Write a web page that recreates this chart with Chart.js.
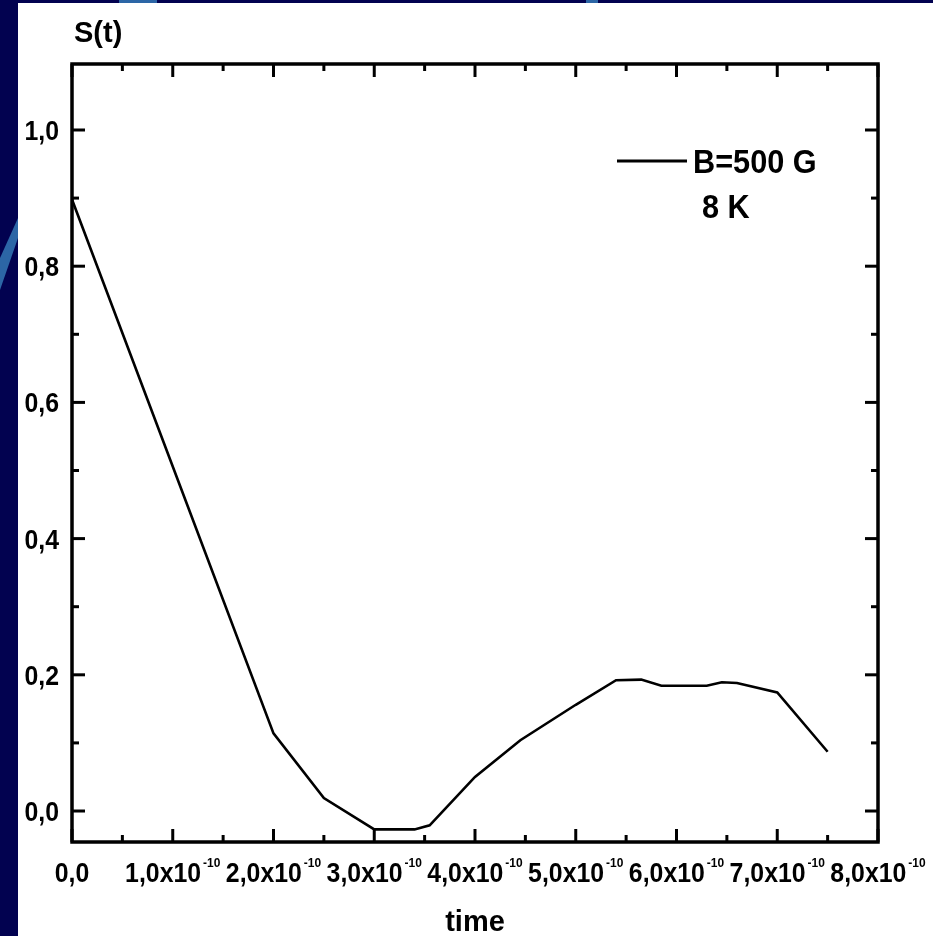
<!DOCTYPE html>
<html><head><meta charset="utf-8">
<script src="https://cdn.jsdelivr.net/npm/chart.js@4/dist/chart.umd.min.js"></script>
<style>
html,body{margin:0;padding:0;background:#020250;overflow:hidden;}
canvas{display:block;}
</style>
</head><body>
<canvas id="c" width="933" height="936"></canvas>
<script>
// ---- data ----
const timeValues   = [0, 1.0e-10, 2.0e-10, 2.5e-10, 3.0e-10, 3.4e-10, 3.55e-10, 4.0e-10, 4.45e-10, 5.0e-10, 5.4e-10, 5.65e-10, 5.85e-10, 6.3e-10, 6.45e-10, 6.6e-10, 7.0e-10, 7.5e-10];
const signalValues = [0.898, 0.506, 0.114, 0.019, -0.027, -0.027, -0.021, 0.050, 0.104, 0.156, 0.192, 0.193, 0.184, 0.184, 0.189, 0.188, 0.174, 0.087];
const seriesLabel = 'B=500 G';
const seriesNote  = '8 K';

const xTickValues = [0, 1e-10, 2e-10, 3e-10, 4e-10, 5e-10, 6e-10, 7e-10, 8e-10];
const xTickMain   = ['0,0', '1,0x10', '2,0x10', '3,0x10', '4,0x10', '5,0x10', '6,0x10', '7,0x10', '8,0x10'];
const xTickExp    = ['', '-10', '-10', '-10', '-10', '-10', '-10', '-10', '-10'];
const xMinorValues = [0.5e-10, 1.5e-10, 2.5e-10, 3.5e-10, 4.5e-10, 5.5e-10, 6.5e-10, 7.5e-10];
const yTickValues = [0, 0.2, 0.4, 0.6, 0.8, 1.0];
const yTickLabels = ['0,0', '0,2', '0,4', '0,6', '0,8', '1,0'];
const yMinorValues = [0.1, 0.3, 0.5, 0.7, 0.9];
const xTitle = 'time';
const yTitle = 'S(t)';

const FONT = '"Liberation Sans", Arial, sans-serif';
function txt(ctx, s, x, y, size, align, sx) {
  ctx.save();
  ctx.font = 'bold ' + size + 'px ' + FONT;
  ctx.fillStyle = '#000';
  ctx.textBaseline = 'alphabetic';
  ctx.translate(x, y);
  ctx.scale(sx, 1);
  ctx.textAlign = align;
  ctx.fillText(s, 0, 0);
  ctx.restore();
}
function txtWidth(ctx, s, size, sx) {
  ctx.save();
  ctx.font = 'bold ' + size + 'px ' + FONT;
  const w = ctx.measureText(s).width * sx;
  ctx.restore();
  return w;
}

const bgPlugin = {
  id: 'bg',
  beforeDraw(chart) {
    const ctx = chart.ctx, W = chart.width, H = chart.height;
    ctx.save();
    ctx.fillStyle = '#020250';
    ctx.fillRect(0, 0, W, H);
    ctx.fillStyle = '#2c66a6';
    ctx.beginPath();
    ctx.moveTo(0, 258); ctx.lineTo(18, 218); ctx.lineTo(18, 238); ctx.lineTo(0, 290); ctx.closePath();
    ctx.fill();
    ctx.fillRect(119, 0, 38, 3);
    ctx.fillRect(586, 0, 12, 3);
    ctx.fillStyle = '#ffffff';
    ctx.fillRect(18, 3, W - 18, H - 3);
    ctx.restore();
  }
};

const framePlugin = {
  id: 'frame',
  afterDraw(chart) {
    const ctx = chart.ctx, a = chart.chartArea;
    const xs = chart.scales.x, ys = chart.scales.y;
    ctx.save();
    ctx.strokeStyle = '#000';
    // frame
    ctx.lineWidth = 3.5;
    ctx.strokeRect(a.left, a.top, a.right - a.left, a.bottom - a.top);
    // ticks (inward, all four sides)
    ctx.lineWidth = 3;
    ctx.lineCap = 'butt';
    const MAJ = 13, MIN = 7;
    function vt(px, len) {
      ctx.beginPath(); ctx.moveTo(px, a.bottom); ctx.lineTo(px, a.bottom - len); ctx.stroke();
      ctx.beginPath(); ctx.moveTo(px, a.top); ctx.lineTo(px, a.top + len); ctx.stroke();
    }
    function ht(py, len) {
      ctx.beginPath(); ctx.moveTo(a.left, py); ctx.lineTo(a.left + len, py); ctx.stroke();
      ctx.beginPath(); ctx.moveTo(a.right, py); ctx.lineTo(a.right - len, py); ctx.stroke();
    }
    xTickValues.forEach(v => vt(xs.getPixelForValue(v), MAJ));
    xMinorValues.forEach(v => vt(xs.getPixelForValue(v), MIN));
    yTickValues.forEach(v => ht(ys.getPixelForValue(v), MAJ));
    yMinorValues.forEach(v => ht(ys.getPixelForValue(v), MIN));
    ctx.restore();

    // y tick labels
    yTickValues.forEach((v, i) => {
      const py = ys.getPixelForValue(v);
      txt(ctx, yTickLabels[i], 59, py + 10, 27, 'right', 0.92);
    });
    // x tick labels with superscript exponent
    xTickValues.forEach((v, i) => {
      const px = xs.getPixelForValue(v);
      const wm = txtWidth(ctx, xTickMain[i], 27, 0.92);
      const we = xTickExp[i] ? txtWidth(ctx, xTickExp[i], 13, 0.92) + 2 : 0;
      const left = px - (wm + we) / 2;
      txt(ctx, xTickMain[i], left, 882, 27, 'left', 0.92);
      if (xTickExp[i]) txt(ctx, xTickExp[i], left + wm + 2, 867, 13, 'left', 0.92);
    });
    // axis titles
    txt(ctx, xTitle, (a.left + a.right) / 2, 931, 29, 'center', 1);
    txt(ctx, yTitle, 74, 42, 29, 'left', 1);

    // legend
    const ds = chart.data.datasets[0];
    ctx.save();
    ctx.strokeStyle = ds.borderColor;
    ctx.lineWidth = 3;
    ctx.beginPath(); ctx.moveTo(617, 161); ctx.lineTo(687, 161); ctx.stroke();
    ctx.restore();
    txt(ctx, ds.label, 693, 173, 33, 'left', 0.93);
    txt(ctx, seriesNote, 702, 218, 33, 'left', 0.93);
  }
};

new Chart(document.getElementById('c'), {
  type: 'line',
  data: {
    datasets: [{
      label: seriesLabel,
      data: timeValues.map((t, i) => ({ x: t, y: signalValues[i] })),
      borderColor: '#000000',
      borderWidth: 2.6,
      pointRadius: 0,
      tension: 0,
      fill: false
    }]
  },
  options: {
    responsive: false,
    animation: false,
    devicePixelRatio: 1,
    layout: { padding: { left: 72, top: 64, right: 55, bottom: 94 } },
    plugins: { legend: { display: false }, tooltip: { enabled: false }, title: { display: false } },
    scales: {
      x: {
        type: 'linear', min: 0, max: 8e-10,
        ticks: { display: false }, grid: { display: false, drawTicks: false }, border: { display: false },
        afterFit(s) { s.height = 0; }
      },
      y: {
        type: 'linear', min: -0.0455, max: 1.0969,
        ticks: { display: false }, grid: { display: false, drawTicks: false }, border: { display: false },
        afterFit(s) { s.width = 0; }
      }
    }
  },
  plugins: [bgPlugin, framePlugin]
});
</script>
</body></html>
